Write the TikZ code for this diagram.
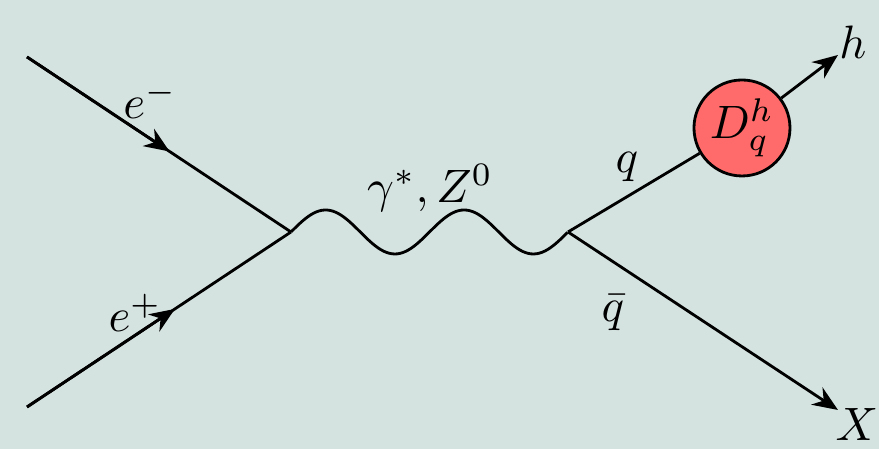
\documentclass[tikz,border=0pt]{standalone}
\usepackage{amsmath,amssymb}
\usepackage{xcolor}
\usetikzlibrary{arrows.meta,calc}
\definecolor{bgcol}{HTML}{D5E3E0}
\definecolor{blobcol}{HTML}{FF6B6B}

\begin{document}
\begin{tikzpicture}[>={Stealth[length=5.4pt, width=4.4pt]}, line width=0.6pt, x=0.075cm, y=0.075cm, trig format=rad]
  \fill[bgcol] (0,0) rectangle (87.9,44.9);
  \useasboundingbox (0,0) rectangle (87.9,44.9);
  \coordinate (em) at (2.7,39.2);
  \coordinate (ep) at (2.7,4.2);
  \coordinate (v1) at (29.1,21.7);
  \coordinate (v2) at (56.8,21.7);
  \node[circle, draw, fill=blobcol, minimum size=7.2mm, inner sep=0pt] (frag) at (74.2,32.1) {$D_q^h$};
  \coordinate (hend) at (83.8,39.4);
  \coordinate (xend) at (83.8,3.9);
  % incoming leptons
  \draw (em) -- (v1);
  \draw[->] (em) -- ($(em)!0.54!(v1)$);
  \draw (ep) -- (v1);
  \draw[->] (ep) -- ($(ep)!0.56!(v1)$);
  % boson
  \draw[domain=0:1, samples=100, smooth, variable=\t]
    plot ({29.1+27.7*\t},{21.7+2.2*sin(4*pi*\t)});
  % outgoing quarks
  \draw (v2) -- (frag);
  \draw[->] (frag) -- (hend);
  \draw[->] (v2) -- (xend);
  % labels
  \node (lem) at (15.0,34.9) {$e^-$};
  \node (lep) at (13.5,13.6) {$e^+$};
  \node (lbos) at (43.0,26.1) {$\gamma^*,Z^0$};
  \node (lq) at (62.7,28.2) {$q$};
  \node (lqb) at (61.3,13.6) {$\bar q$};
  \node (lh) at (85.3,40.7) {$h$};
  \node (lx) at (85.7,2.4) {$X$};
\end{tikzpicture}
\end{document}
